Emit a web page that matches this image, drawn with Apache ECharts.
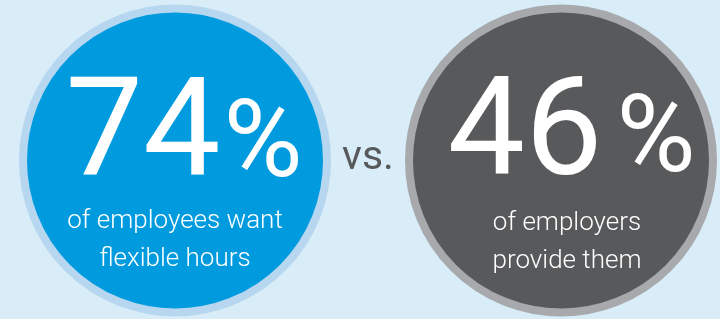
<!DOCTYPE html>
<html>
<head>
<meta charset="utf-8">
<script src="https://cdn.jsdelivr.net/npm/echarts@6/dist/echarts.min.js"></script>
<style>html,body{margin:0;padding:0;background:#d8edf8;}#c{width:720px;height:319px;}</style>
</head>
<body>
<div id="c"></div>
<script>
const categories = ['employees', 'employers'];
const values = [74, 46];
const captions = ['of employees want\nflexible hours', 'of employers\nprovide them'];
const separator = 'vs.';

const fills = ['#009bdf', '#58595b'];
const rings = ['#b6d7ef', '#a7a9ac'];
const FONT = 'Roboto, "Liberation Sans", sans-serif';

const numOffsets = [[-32, -20], [-36, -21]];
const pctOffsets = [[88, -12], [95, -17]];
const capOffsets = [[0, 80], [6, 82]];

const chart = echarts.init(document.getElementById('c'), null, {renderer: 'canvas'});
chart.setOption({
  backgroundColor: '#d8edf8',
  animation: false,
  grid: {left: 0, right: 0, top: 2, bottom: 0},
  xAxis: {type: 'value', min: -175 / 386, max: 545 / 386, show: false},
  yAxis: {type: 'value', min: -1, max: 1, show: false},
  graphic: [{
    type: 'text', x: 368, y: 159, z: 100,
    style: {text: separator, fill: '#58595b', font: '400 41px ' + FONT, textAlign: 'center', textVerticalAlign: 'middle'}
  }],
  series: [
    {
      type: 'scatter', name: 'share', silent: true, clip: false, symbol: 'circle', symbolSize: 304,
      data: values.map((v, i) => ({
        name: categories[i],
        value: [i, 0],
        itemStyle: {color: fills[i], borderColor: rings[i], borderWidth: 8, opacity: 1},
        label: {show: true, position: 'inside', offset: numOffsets[i], formatter: String(v),
          color: '#fff', fontFamily: FONT, fontWeight: 400, fontSize: 138}
      }))
    },
    {
      type: 'scatter', silent: true, clip: false, symbolSize: 1,
      itemStyle: {color: 'rgba(0,0,0,0)', opacity: 1},
      data: values.map((v, i) => ({
        value: [i, 0],
        label: {show: true, position: 'inside', offset: pctOffsets[i], formatter: '%',
          color: '#fff', fontFamily: FONT, fontWeight: 400, fontSize: 108}
      }))
    },
    {
      type: 'scatter', silent: true, clip: false, symbolSize: 1,
      itemStyle: {color: 'rgba(0,0,0,0)', opacity: 1},
      data: captions.map((c, i) => ({
        value: [i, 0],
        label: {show: true, position: 'inside', offset: capOffsets[i], formatter: c,
          color: '#fff', fontFamily: FONT, fontWeight: 300, fontSize: 26, lineHeight: 38, align: 'center'}
      }))
    }
  ]
});
</script>
</body>
</html>
